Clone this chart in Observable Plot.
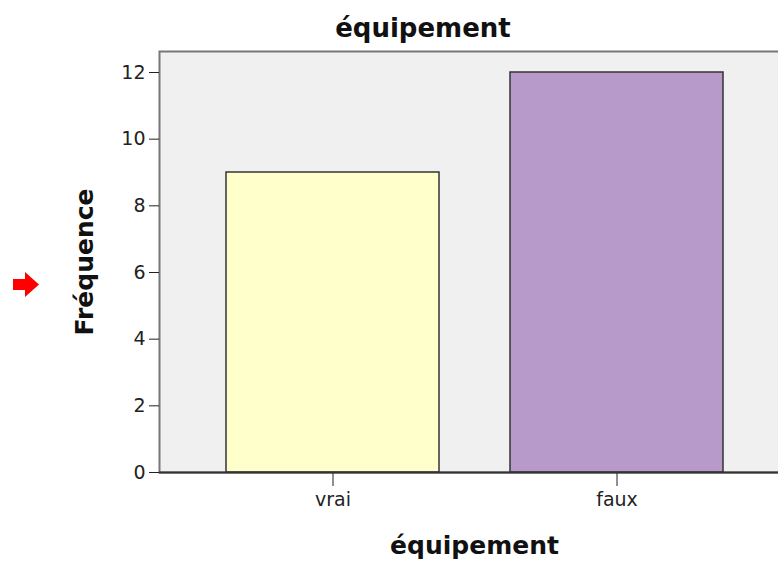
<!DOCTYPE html>
<html>
<head>
<meta charset="utf-8">
<script src="https://cdn.jsdelivr.net/npm/d3@7"></script>
<script src="https://cdn.jsdelivr.net/npm/@observablehq/plot@0.6"></script>
<style>
  html, body { margin: 0; padding: 0; background: #fff; overflow: hidden; }
  #wrap { position: relative; width: 778px; height: 562px; overflow: hidden; }
  #title { position: absolute; left: 0; top: 15px; width: 846px; text-align: center;
           font: bold 26px "DejaVu Sans"; line-height: 1; color: #111; }
  #arrow { position: absolute; left: 13px; top: 272px; }
  #chart { position: absolute; left: 0; top: 0; width: 790px; }
  #chart svg { max-width: none !important; width: 790px; height: 562px; }
</style>
</head>
<body>
<div id="wrap">
  <div id="chart"></div>
  <div id="title">équipement</div>
  <svg id="arrow" width="27" height="26" viewBox="0 0 27 26">
    <polygon points="0,7 12,7 12,0 26,12.5 12,25 12,18 0,18" fill="#ff0000"/>
  </svg>
</div>
<script>
const categories = ["vrai", "faux"];
const frequencies = [9, 12];
const barColors = ["#ffffcc", "#b89aca"];
const yTicks = [0, 2, 4, 6, 8, 10, 12];
const xTitle = "équipement";
const yTitle = "Fréquence";

const data = categories.map((c, i) => ({category: c, value: frequencies[i]}));

const chart = Plot.plot({
  width: 790,
  height: 562,
  marginLeft: 159,
  marginRight: 1,
  marginTop: 51,
  marginBottom: 90,
  style: {fontFamily: "DejaVu Sans", fontSize: "19px", color: "#222", background: "transparent", maxWidth: "none"},
  x: {domain: categories, paddingInner: 0.25, paddingOuter: 0.234, label: null, tickSize: 14, tickPadding: 6},
  y: {domain: [0, 12.63], ticks: yTicks, label: null, tickSize: 10, tickPadding: 4},
  color: {domain: categories, range: barColors},
  marks: [
    Plot.frame({fill: "#f0f0f0", stroke: "#777", strokeWidth: 2}),
    Plot.barY(data, {x: "category", y: "value", fill: "category", stroke: "#333", strokeWidth: 1.5}),
    Plot.axisY({ticks: yTicks, tickSize: 10, tickPadding: 4, label: null}),
    Plot.axisX({tickSize: 14, tickPadding: 6, label: null}),
    Plot.ruleY([0], {stroke: "#333", strokeWidth: 2}),
    Plot.axisY({ticks: [], tickSize: 0, label: null, line: true, stroke: "#333", strokeWidth: 2.5}),
    Plot.text([xTitle], {frameAnchor: "bottom", dy: 81, fontSize: 25, fontWeight: "bold", fill: "#111"}),
    Plot.text([yTitle], {frameAnchor: "left", textAnchor: "middle", dx: -75, rotate: -90, fontSize: 25, fontWeight: "bold", fill: "#111"})
  ]
});
chart.style.maxWidth = "none";
document.getElementById("chart").appendChild(chart);
</script>
</body>
</html>
